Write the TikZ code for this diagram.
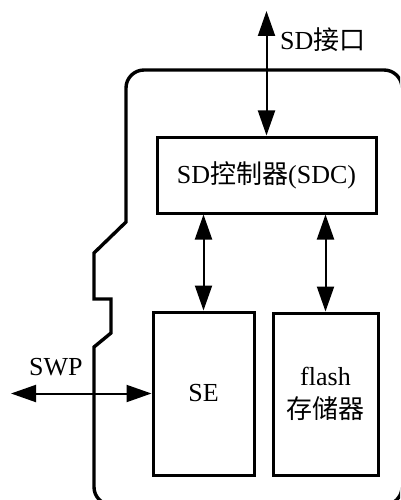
\documentclass[tikz,border=0pt]{standalone}
\usepackage{fontspec}
\setmainfont{Liberation Serif}
\newfontfamily\cjk{Noto Sans CJK SC}
\usetikzlibrary{arrows.meta}
\tikzset{
  blockbox/.style={draw, line width=3pt, inner sep=0pt, font=\fontsize{26}{33}\selectfont},
  biarrow/.style={line width=2pt, {Triangle[length=25pt,width=17pt]}-{Triangle[length=25pt,width=17pt]}},
  lbl/.style={inner sep=0pt, font=\fontsize{26}{30}\selectfont},
}
\begin{document}
\begin{tikzpicture}[x=1pt, y=-1pt]
  \useasboundingbox (0,0) rectangle (400,500);
  \clip (0,0) rectangle (400,500);
  % card outline: rounded outer corners, sharp notch on the left side
  \draw[line width=3.4pt] (126,150) [rounded corners=18pt] -- (126,70) -- (402,70)
    -- (402,505) -- (94,505) -- (94,420) [sharp corners] -- (94,347) -- (111,333)
    -- (111,299) -- (94,299) -- (94,253) -- (126,222) -- (126,150);
  % internal blocks
  \node[blockbox, minimum width=219pt, minimum height=76pt] (sdc) at (266.5,175) {SD{\cjk 控制器}(SDC)};
  \node[blockbox, minimum width=101pt, minimum height=163pt] (se) at (203.5,393.5) {SE};
  \node[blockbox, minimum width=105pt, minimum height=162pt, align=center] (fl) at (325.5,394) {flash\\{\cjk 存储器}};
  % external interface ends
  \coordinate (sdtop) at (266.5,11);
  \coordinate (swpend) at (11,393.5);
  % connectors
  \draw[biarrow] (sdtop) -- (sdc.north);
  \draw[biarrow] (sdc.south -| se.north) -- (se.north);
  \draw[biarrow] (sdc.south -| fl.north) -- (fl.north);
  \draw[biarrow] (swpend) -- (se.west);
  % labels
  \node[lbl, anchor=base west] (sdlbl) at (280,50) {SD{\cjk 接口}};
  \node[lbl, anchor=base west] (swplbl) at (29,375) {SWP};
\end{tikzpicture}
\end{document}
